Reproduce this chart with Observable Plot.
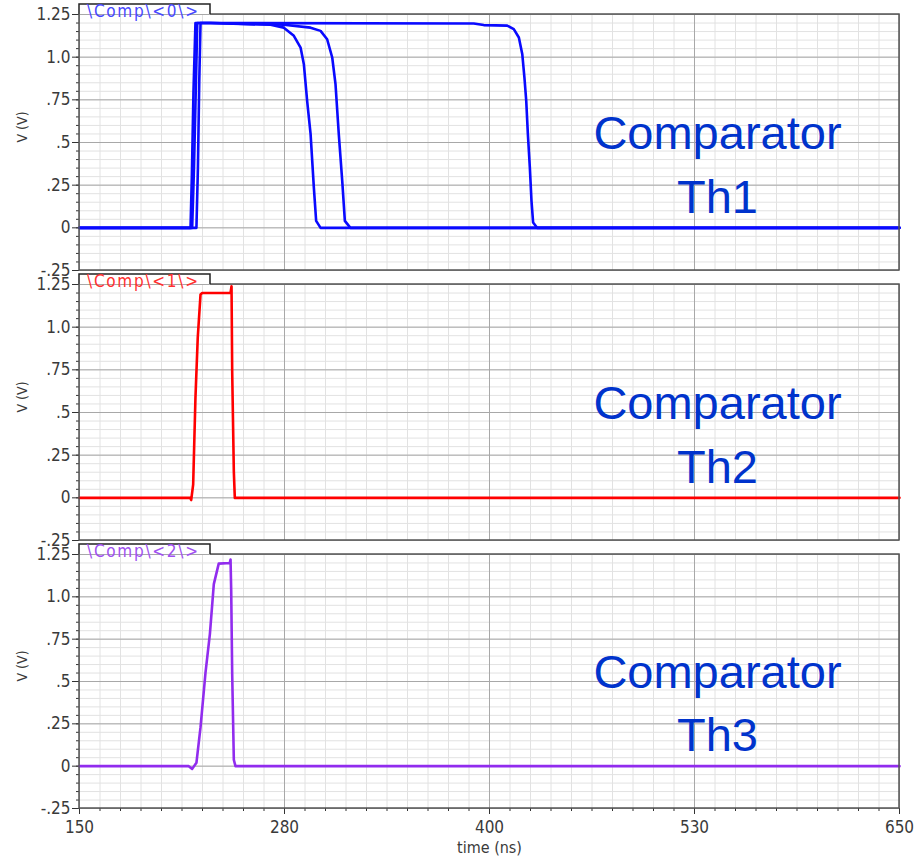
<!DOCTYPE html>
<html><head><meta charset="utf-8">
<script src="https://cdn.jsdelivr.net/npm/d3@7"></script>
<script src="https://cdn.jsdelivr.net/npm/@observablehq/plot@0.6"></script>
<style>
body{margin:0;background:#fff;}
#chart{position:relative;width:924px;height:864px;overflow:hidden;background:#fff;}
#chart svg{position:absolute;left:0;overflow:visible;background:none;}
</style></head><body><div id="chart"></div>
<script>
// ---- axis definitions ----
const xDomain = [150, 650];
const xMajor = [150, 275, 400, 525, 650];
const xLabels = ["150", "280", "400", "530", "650"];
const yDomain = [-0.25, 1.25];
const yMajor = [-0.25, 0, 0.25, 0.5, 0.75, 1.0, 1.25];
const yLabels = ["-.25", "0", ".25", ".5", ".75", "1.0", "1.25"];
const xLabel = "time (ns)";
const yLabel = "V (V)";

// ---- signal names ----
const signalNames = ["\\Comp\\<0\\>", "\\Comp\\<1\\>", "\\Comp\\<2\\>"];
const annoLine1 = "Comparator";
const annoLine2 = ["Th1", "Th2", "Th3"];
const annoX = 539;
const annoY = [0.463, 0.088];

// ---- Comp<0> : three traces ----
const th1aTime = [150, 217.7, 218.5, 219.5, 220.7, 230, 266.5, 274.6, 280.7, 284.8, 286.8, 288.8, 290.9, 292.9, 294.3, 297, 650];
const th1aVolt = [0, 0, 0.3, 0.8, 1.2, 1.2, 1.19, 1.173, 1.125, 1.056, 0.959, 0.744, 0.551, 0.236, 0.041, 0, 0];
const th1bTime = [150, 218.7, 219.8, 221.0, 221.8, 230, 274.6, 290.9, 297.0, 301.0, 304.1, 306.1, 308.1, 310.2, 311.8, 315.2, 650];
const th1bVolt = [0, 0, 0.35, 0.85, 1.2, 1.2, 1.19, 1.173, 1.154, 1.105, 0.998, 0.842, 0.549, 0.275, 0.041, 0, 0];
const th1cTime = [150, 221.3, 222.2, 223.0, 223.8, 240, 390.4, 396.5, 410.8, 414.8, 417.9, 420.0, 421.3, 422.4, 423.4, 424.6, 425.6, 426.6, 429.0, 650];
const th1cVolt = [0, 0, 0.35, 0.85, 1.2, 1.2, 1.197, 1.188, 1.185, 1.164, 1.115, 1.017, 0.88, 0.744, 0.549, 0.353, 0.158, 0.031, 0, 0];

// ---- Comp<1> ----
const th2Time = [150, 217.5, 218.1, 219.3, 220.7, 222.1, 223.8, 224.8, 242.1, 242.7, 243.1, 244.1, 244.7, 650];
const th2Volt = [0, 0, -0.013, 0.077, 0.586, 0.938, 1.192, 1.2, 1.2, 1.24, 0.742, 0.156, 0, 0];

// ---- Comp<2> ----
const th3Time = [150, 216.6, 218.7, 221.3, 223.8, 226.8, 229.5, 231.9, 234.9, 241.6, 242.1, 242.5, 243.1, 244.1, 245.1, 650];
const th3Volt = [0, 0, -0.016, 0.02, 0.23, 0.55, 0.78, 1.075, 1.196, 1.2, 1.22, 1.035, 0.546, 0.038, 0, 0];

const traceColors = ["#0a0aff", "#ff0000", "#912cee"];
const labelColors = ["#4848ff", "#ff3030", "#a050f0"];

const xMinor = d3.range(150, 650.01, 12.5);
const yMinor = d3.range(-25, 126, 5).map(d => d / 100);

const fontAxis = "'DejaVu Sans Condensed','DejaVu Sans',sans-serif";

function buildPanel(idx, traces, opts) {
  const data = traces.flatMap((tr, k) => tr.t.map((t, i) => ({t, v: tr.v[i], k})));
  const anno = [
    {x: annoX, y: annoY[0], text: annoLine1},
    {x: annoX, y: annoY[1], text: annoLine2[idx]}
  ];
  const marks = [
    Plot.ruleX(xMinor, {stroke: "#e2e2e2", strokeWidth: 1}),
    Plot.ruleY(yMinor, {stroke: "#e2e2e2", strokeWidth: 1}),
    Plot.ruleX(xMajor, {stroke: "#a8a8a8", strokeWidth: 1}),
    Plot.ruleY(yMajor, {stroke: "#a8a8a8", strokeWidth: 1}),
    Plot.axisY(yMinor, {tickSize: 3, fill: "none", stroke: "#333", label: null}),
    Plot.axisY(yMajor, {tickSize: 7, tickPadding: 2, stroke: "#333", fill: "#3a3a3a", label: null,
      tickFormat: d => yLabels[yMajor.indexOf(d)]}),
    Plot.text([yLabel], {frameAnchor: "left", dx: -57, rotate: -90, fontSize: 14, fill: "#3a3a3a", fontFamily: fontAxis}),
    Plot.line(data, {x: "t", y: "v", z: "k", stroke: traceColors[idx], strokeWidth: 2.6, strokeLinejoin: "round"}),
    Plot.text(anno, {x: "x", y: "y", text: "text", fontSize: 47, fontFamily: "'Liberation Sans', Arial, sans-serif",
      fill: "#0033cc", textAnchor: "middle", lineAnchor: "bottom"})
  ];
  if (opts.showX) {
    marks.push(
      Plot.axisX(xMinor, {tickSize: 3, fill: "none", stroke: "#333", label: null}),
      Plot.axisX(xMajor, {tickSize: 6, tickPadding: 6, stroke: "#333", fill: "#3a3a3a", label: null,
        tickFormat: d => xLabels[xMajor.indexOf(d)]}),
      Plot.text([xLabel], {frameAnchor: "bottom", dy: 44, fontSize: 16, fill: "#3a3a3a", fontFamily: fontAxis})
    );
  }
  const svg = Plot.plot({
    width: 924,
    height: opts.height,
    marginLeft: 79,
    marginRight: 25,
    marginTop: opts.marginTop,
    marginBottom: opts.marginBottom,
    x: {domain: xDomain, axis: null},
    y: {domain: yDomain, axis: null},
    style: {fontFamily: fontAxis, fontSize: "17px", color: "#3a3a3a", background: "none", overflow: "visible"},
    marks
  });
  svg.style.top = opts.top + "px";
  // frame with signal tab
  const xs = Plot.scale({x: {domain: xDomain, range: [79, 924 - 25]}});
  const X0 = xs.apply(xDomain[0]), X1 = xs.apply(xDomain[1]);
  const YT = opts.marginTop, YB = opts.height - opts.marginBottom;
  const tabW = 131, tabH = 10;
  const g = d3.select(svg).append("g");
  g.append("path")
    .attr("d", `M${X0 + tabW},${YT}H${X1}V${YB}H${X0}V${YT}`)
    .attr("fill", "none").attr("stroke", "#555").attr("stroke-width", 1.5);
  g.append("path")
    .attr("d", `M${X0},${YT}V${YT - tabH}H${X0 + tabW}V${YT}`)
    .attr("fill", "none").attr("stroke", "#222").attr("stroke-width", 1.5);
  g.append("text")
    .attr("x", X0 + 8).attr("y", YT + 3)
    .attr("text-anchor", "start")
    .attr("font-family", fontAxis).attr("font-size", 17)
    .attr("fill", labelColors[idx])
    .attr("textLength", 111).attr("lengthAdjust", "spacing")
    .text(signalNames[idx]);
  return svg;
}

const chart = document.getElementById("chart");
chart.appendChild(buildPanel(0, [
  {t: th1aTime, v: th1aVolt}, {t: th1bTime, v: th1bVolt}, {t: th1cTime, v: th1cVolt}
], {top: 0, height: 272, marginTop: 14, marginBottom: 2}));
chart.appendChild(buildPanel(1, [{t: th2Time, v: th2Volt}], {top: 272, height: 270, marginTop: 12, marginBottom: 2}));
chart.appendChild(buildPanel(2, [{t: th3Time, v: th3Volt}], {top: 542, height: 322, marginTop: 12, marginBottom: 56, showX: true}));
</script>
</body></html>
